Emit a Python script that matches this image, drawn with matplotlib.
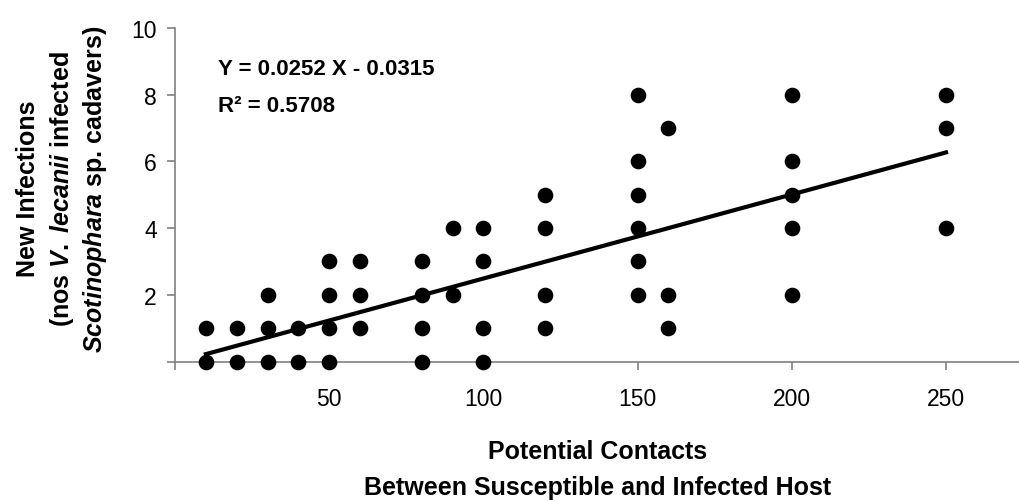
import matplotlib
matplotlib.use("Agg")
import matplotlib.pyplot as plt
import numpy as np

plt.rcParams['font.family'] = ['Liberation Sans', 'DejaVu Sans']
plt.rcParams['mathtext.fontset'] = 'custom'
plt.rcParams['mathtext.it'] = 'Liberation Sans:style=italic:weight=bold'
plt.rcParams['mathtext.rm'] = 'Liberation Sans:weight=bold'
plt.rcParams['mathtext.bf'] = 'Liberation Sans:weight=bold'

# Data
contacts = [10, 10, 20, 20, 30, 30, 30, 40, 40,
            50, 50, 50, 50, 60, 60, 60,
            80, 80, 80, 80, 90, 90, 100, 100, 100, 100,
            120, 120, 120, 120,
            150, 150, 150, 150, 150, 150,
            160, 160, 160,
            200, 200, 200, 200, 200,
            250, 250, 250]
infections = [0, 1, 0, 1, 0, 1, 2, 0, 1,
              0, 1, 2, 3, 1, 2, 3,
              0, 1, 2, 3, 2, 4, 0, 1, 3, 4,
              1, 2, 4, 5,
              2, 3, 4, 5, 6, 8,
              1, 2, 7,
              2, 4, 5, 6, 8,
              4, 7, 8]
slope = 0.0252
intercept = -0.0315
r_squared = 0.5708

x_ticks = [0, 50, 100, 150, 200, 250]
x_tick_labels = ['', '50', '100', '150', '200', '250']
y_ticks = [0, 2, 4, 6, 8, 10]
y_tick_labels = ['', '2', '4', '6', '8', '10']

W, H = 1020, 502
fig = plt.figure(figsize=(W / 100, H / 100), dpi=100)
ax = fig.add_axes([175 / W, (H - 362.5) / H, (W - 175) / W, (362.5 - 29) / H])

ax.scatter(contacts, infections, s=105, color='black', zorder=3, clip_on=False)
xs = np.array([min(contacts), max(contacts)])
ax.plot(xs, slope * xs + intercept, color='black', lw=3, zorder=2)

ax.set_xlim(0, 274)
ax.set_ylim(0, 10)
ax.set_xticks(x_ticks)
ax.set_xticklabels(x_tick_labels)
ax.set_yticks(y_ticks)
ax.set_yticklabels(y_tick_labels)
for s in ['top', 'right']:
    ax.spines[s].set_visible(False)
for s in ['left', 'bottom']:
    ax.spines[s].set_color('#808080')
    ax.spines[s].set_linewidth(1.2)
ax.tick_params(axis='both', direction='out', length=6, width=1.2, color='#808080',
               labelsize=16.5, labelcolor='black')
ax.tick_params(axis='x', pad=12)
ax.tick_params(axis='y', pad=7)

ax.text(14, 8.62, f'Y = {slope:.4f} X - {abs(intercept):.4f}', fontsize=16,
        fontweight='bold', ha='left', va='baseline')
ax.text(14, 7.51, f'R² = {r_squared:.4f}', fontsize=16,
        fontweight='bold', ha='left', va='baseline')

fig.text(598 / W, (H - 459) / H, 'Potential Contacts', fontsize=18,
         fontweight='bold', ha='center', va='baseline')
fig.text(598 / W, (H - 495) / H, 'Between Susceptible and Infected Host', fontsize=18,
         fontweight='bold', ha='center', va='baseline')

ylab_y = (H - 189) / H
fig.text(28 / W, ylab_y, 'New Infections', fontsize=18, fontweight='bold',
         rotation=90, ha='center', va='center')
fig.text(62 / W, ylab_y, r'(nos $\mathit{V.}$ $\mathit{lecanii}$ infected', fontsize=18,
         fontweight='bold', rotation=90, ha='center', va='center')
fig.text(95 / W, ylab_y, r'$\mathit{Scotinophara}$ sp. cadavers)', fontsize=18,
         fontweight='bold', rotation=90, ha='center', va='center')

fig.savefig('out.png', dpi=100)
